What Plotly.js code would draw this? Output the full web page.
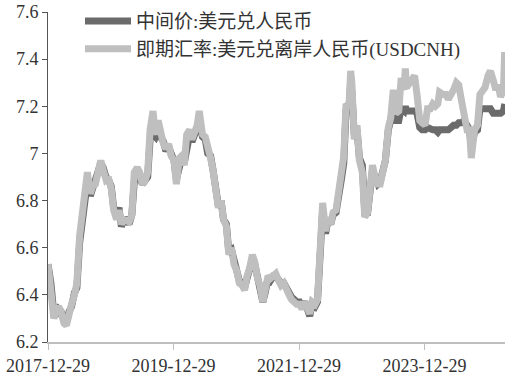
<!DOCTYPE html>
<html>
<head>
<meta charset="utf-8">
<script src="https://cdn.plot.ly/plotly-3.0.1.min.js"></script>
<style>html,body{margin:0;padding:0;background:#fff;}#chart{width:517px;height:383px;}</style>
</head>
<body>
<div id="chart"></div>
<script>
const dates = [
"2017-12-29","2018-01-15","2018-02-01","2018-02-15","2018-03-01","2018-03-15","2018-04-01","2018-04-15","2018-05-01","2018-05-15",
"2018-06-01","2018-06-15","2018-07-01","2018-07-15","2018-08-01","2018-08-15","2018-09-01","2018-09-15","2018-10-01","2018-10-15",
"2018-11-01","2018-11-15","2018-12-01","2018-12-15","2019-01-01","2019-01-15","2019-02-01","2019-02-15","2019-03-01","2019-03-15",
"2019-04-01","2019-04-15","2019-05-01","2019-05-15","2019-06-01","2019-06-15","2019-07-01","2019-07-15","2019-08-01","2019-08-15",
"2019-09-01","2019-09-15","2019-10-01","2019-10-15","2019-11-01","2019-11-15","2019-12-01","2019-12-15","2020-01-01","2020-01-15",
"2020-02-01","2020-02-15","2020-03-01","2020-03-15","2020-04-01","2020-04-15","2020-05-01","2020-05-15","2020-05-27","2020-06-15",
"2020-07-01","2020-07-15","2020-08-01","2020-08-15","2020-09-01","2020-09-15","2020-10-01","2020-10-15","2020-11-01","2020-11-15",
"2020-12-01","2020-12-15","2021-01-01","2021-01-15","2021-02-01","2021-02-15","2021-03-01","2021-03-15","2021-04-01","2021-04-15",
"2021-05-01","2021-05-15","2021-06-01","2021-06-15","2021-07-01","2021-07-15","2021-08-01","2021-08-15","2021-09-01","2021-09-15",
"2021-10-01","2021-10-15","2021-11-01","2021-11-15","2021-12-01","2021-12-15","2022-01-01","2022-01-15","2022-02-01","2022-02-15",
"2022-03-01","2022-03-15","2022-04-01","2022-04-15","2022-04-25","2022-05-01","2022-05-15","2022-06-01","2022-06-15","2022-07-01",
"2022-07-15","2022-08-01","2022-08-15","2022-09-01","2022-09-15","2022-09-28","2022-10-15","2022-10-25","2022-11-01","2022-11-15",
"2022-12-01","2022-12-15","2023-01-01","2023-01-15","2023-02-01","2023-02-15","2023-03-01","2023-03-15","2023-04-01","2023-04-15",
"2023-05-01","2023-05-15","2023-06-01","2023-06-15","2023-06-30","2023-07-15","2023-08-01","2023-08-15","2023-09-01","2023-09-08",
"2023-09-15","2023-10-01","2023-10-15","2023-11-01","2023-11-15","2023-12-01","2023-12-15","2024-01-01","2024-01-15","2024-02-01",
"2024-02-15","2024-03-01","2024-03-15","2024-03-25","2024-04-15","2024-05-01","2024-05-15","2024-06-01","2024-06-15","2024-07-01",
"2024-07-15","2024-08-01","2024-08-15","2024-09-01","2024-09-15","2024-09-26","2024-10-15","2024-11-01","2024-11-15","2024-12-01",
"2024-12-15","2025-01-01","2025-01-15","2025-02-01","2025-02-15","2025-03-01","2025-03-15","2025-04-01","2025-04-08","2025-04-09"
];
const midRate = [
6.53,6.45,6.32,6.32,6.34,6.33,6.29,6.28,6.33,6.35,
6.41,6.43,6.62,6.70,6.82,6.88,6.82,6.85,6.87,6.92,
6.96,6.94,6.90,6.89,6.86,6.77,6.74,6.77,6.69,6.72,
6.72,6.70,6.74,6.88,6.90,6.90,6.87,6.88,6.90,7.06,
7.08,7.07,7.10,7.07,7.05,7.01,7.03,7.00,6.97,6.89,
6.95,6.98,6.96,7.04,7.08,7.05,7.08,7.10,7.13,7.07,
7.06,7.00,6.99,6.93,6.86,6.78,6.80,6.72,6.70,6.58,
6.59,6.54,6.50,6.46,6.45,6.43,6.47,6.50,6.55,6.53,
6.48,6.44,6.37,6.41,6.47,6.46,6.48,6.48,6.46,6.45,
6.45,6.43,6.40,6.39,6.38,6.37,6.37,6.35,6.37,6.34,
6.31,6.36,6.35,6.37,6.50,6.60,6.76,6.66,6.72,6.70,
6.74,6.75,6.80,6.89,6.96,7.18,7.19,7.30,7.26,7.08,
7.10,6.98,6.95,6.75,6.75,6.84,6.93,6.90,6.87,6.88,
6.92,6.97,7.10,7.14,7.22,7.14,7.14,7.19,7.18,7.20,
7.18,7.18,7.18,7.18,7.17,7.11,7.10,7.10,7.11,7.10,
7.10,7.10,7.09,7.10,7.10,7.10,7.10,7.11,7.12,7.12,
7.13,7.13,7.14,7.12,7.10,7.03,7.09,7.10,7.19,7.19,
7.19,7.19,7.19,7.17,7.17,7.17,7.17,7.18,7.21,7.21
];
const spotCNH = [
6.53,6.44,6.30,6.33,6.35,6.33,6.28,6.27,6.33,6.36,
6.40,6.45,6.65,6.72,6.85,6.92,6.83,6.86,6.87,6.93,
6.97,6.93,6.89,6.90,6.85,6.76,6.72,6.76,6.70,6.72,
6.71,6.71,6.74,6.92,6.94,6.92,6.87,6.88,6.92,7.10,
7.18,7.08,7.14,7.08,7.04,7.02,7.04,6.99,6.97,6.87,
6.98,6.99,6.95,7.08,7.10,7.06,7.10,7.12,7.18,7.08,
7.07,7.01,6.98,6.93,6.84,6.77,6.80,6.72,6.69,6.57,
6.60,6.53,6.50,6.45,6.44,6.42,6.48,6.51,6.57,6.54,
6.47,6.44,6.37,6.42,6.48,6.47,6.48,6.49,6.46,6.44,
6.45,6.42,6.40,6.38,6.37,6.36,6.36,6.34,6.37,6.34,
6.32,6.37,6.36,6.38,6.58,6.65,6.79,6.67,6.73,6.70,
6.75,6.76,6.83,6.91,6.99,7.21,7.20,7.35,7.30,7.06,
7.12,6.97,6.92,6.73,6.75,6.85,6.95,6.90,6.87,6.87,
6.92,6.97,7.11,7.15,7.27,7.17,7.18,7.32,7.27,7.36,
7.28,7.30,7.31,7.33,7.25,7.14,7.13,7.12,7.19,7.19,
7.21,7.20,7.21,7.26,7.25,7.25,7.23,7.25,7.27,7.30,
7.29,7.22,7.17,7.10,7.10,6.98,7.10,7.12,7.25,7.27,
7.28,7.33,7.35,7.31,7.27,7.29,7.24,7.27,7.43,7.34
];
const seriesNames = ["中间价:美元兑人民币","即期汇率:美元兑离岸人民币(USDCNH)"];
const xTickVals = ["2017-12-29","2019-12-29","2021-12-29","2023-12-29"];
const xTickText = ["2017-12-29","2019-12-29","2021-12-29","2023-12-29"];
const yTickVals = [6.2,6.4,6.6,6.8,7.0,7.2,7.4,7.6];
const yTickText = ["6.2","6.4","6.6","6.8","7","7.2","7.4","7.6"];

const font = '"Liberation Serif","Noto Sans CJK SC",serif';
const traces = [
  {x: dates, y: midRate, name: seriesNames[0], legendgroup: 'a', type: 'scatter', mode: 'lines',
   line: {color: '#6b6b6b', width: 7}},
  {x: dates, y: spotCNH, name: seriesNames[1], legendgroup: 'b', type: 'scatter', mode: 'lines',
   line: {color: '#bfbfbf', width: 7}}
];
const layout = {
  width: 517, height: 383,
  margin: {l: 48, r: 12, t: 12, b: 41, autoexpand: false},
  paper_bgcolor: '#fff', plot_bgcolor: '#fff',
  font: {family: font, size: 18, color: '#333'},
  showlegend: true,
  legend: {x: 0.07, y: 1.03, xanchor: 'left', yanchor: 'top', bgcolor: 'rgba(0,0,0,0)',
           font: {family: font, size: 19, color: '#333'}, tracegroupgap: 2, itemwidth: 46,
           traceorder: 'normal'},
  xaxis: {type: 'date', range: ['2017-12-29', '2025-04-10'], tickvals: xTickVals, ticktext: xTickText,
          showgrid: false, zeroline: false, showline: true, linecolor: '#bfbfbf', linewidth: 2,
          ticks: 'outside', ticklen: 6, tickcolor: '#bfbfbf', tickwidth: 1,
          tickfont: {family: font, size: 18, color: '#333'}},
  yaxis: {range: [6.2, 7.6], tickvals: yTickVals, ticktext: yTickText,
          showgrid: false, zeroline: false, showline: true, linecolor: '#555', linewidth: 1,
          ticks: 'outside', ticklen: 5, tickcolor: '#555', tickwidth: 1,
          tickfont: {family: font, size: 18, color: '#333'}}
};
Plotly.newPlot('chart', traces, layout, {displayModeBar: false, staticPlot: true});
</script>
</body>
</html>
